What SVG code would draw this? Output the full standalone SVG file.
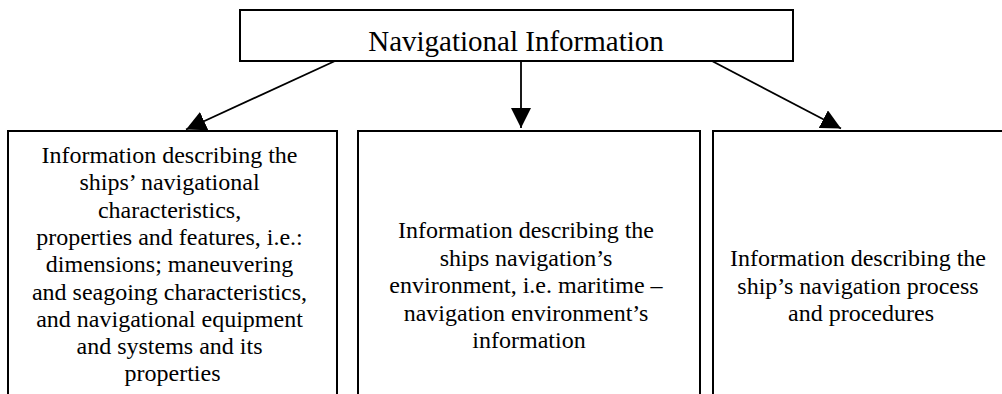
<svg xmlns="http://www.w3.org/2000/svg" width="1002" height="394" viewBox="0 0 1002 394">
  <style>
    .box { fill: #ffffff; stroke: #000000; stroke-width: 2; }
    .link { fill: none; stroke: #000000; stroke-width: 1.8; }
  </style>
  <defs>
    <marker id="arrow" viewBox="0 0 20 20" refX="20" refY="10" markerWidth="20" markerHeight="20" markerUnits="userSpaceOnUse" orient="auto">
      <path d="M0,0 L20,10 L0,20 z" fill="#000000"/>
    </marker>
  </defs>

  <!-- connectors from the root node to the three categories -->
  <g id="connectors">
    <line class="link" x1="335" y1="61" x2="186" y2="129.5" marker-end="url(#arrow)"/>
    <line class="link" x1="521" y1="61" x2="521" y2="128" marker-end="url(#arrow)"/>
    <line class="link" x1="712" y1="61" x2="841" y2="128.5" marker-end="url(#arrow)"/>
  </g>

  <g id="node-root">
    <rect class="box" x="240" y="10" width="553" height="51"/>
    <text font-family="Liberation Serif" font-size="29" text-anchor="middle" x="516" y="51">Navigational Information</text>
  </g>

  <g id="node-ship">
    <rect class="box" x="8" y="131" width="329" height="280"/>
    <text font-family="Liberation Serif" font-size="24" text-anchor="middle" x="172.5" y="163">
      <tspan x="172.5" y="163">Information describing the</tspan>
      <tspan x="172.5" y="190.3">ships’ navigational</tspan>
      <tspan x="172.5" y="217.6">characteristics,</tspan>
      <tspan x="172.5" y="244.9">properties and features, i.e.:</tspan>
      <tspan x="172.5" y="272.2">dimensions; maneuvering</tspan>
      <tspan x="172.5" y="299.5">and seagoing characteristics,</tspan>
      <tspan x="172.5" y="326.8">and navigational equipment</tspan>
      <tspan x="172.5" y="354.1">and systems and its</tspan>
      <tspan x="172.5" y="381.4">properties</tspan>
    </text>
  </g>

  <g id="node-environment">
    <rect class="box" x="358" y="131" width="342" height="280"/>
    <text font-family="Liberation Serif" font-size="24" text-anchor="middle" x="529" y="238">
      <tspan x="529" y="238">Information describing the</tspan>
      <tspan x="529" y="265.5">ships navigation’s</tspan>
      <tspan x="529" y="293">environment, i.e. maritime –</tspan>
      <tspan x="529" y="320.5">navigation environment’s</tspan>
      <tspan x="529" y="348">information</tspan>
    </text>
  </g>

  <g id="node-process">
    <rect class="box" x="713" y="131" width="300" height="280"/>
    <text font-family="Liberation Serif" font-size="24" text-anchor="middle" x="861" y="266">
      <tspan x="861" y="266">Information describing the</tspan>
      <tspan x="861" y="293.5">ship’s navigation process</tspan>
      <tspan x="861" y="321">and procedures</tspan>
    </text>
  </g>
</svg>
